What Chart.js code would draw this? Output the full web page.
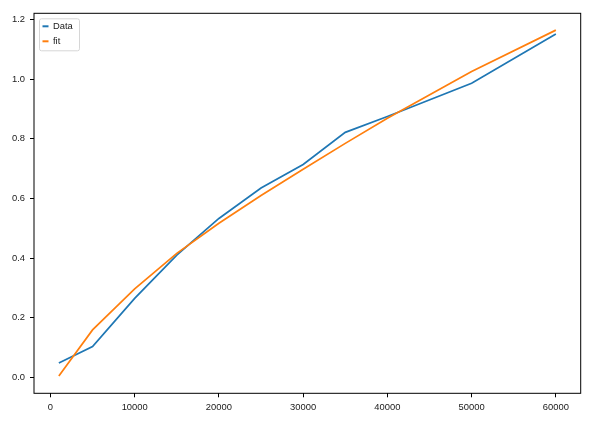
<!DOCTYPE html>
<html>
<head>
<meta charset="utf-8">
<script src="https://cdn.jsdelivr.net/npm/chart.js@4.4.0/dist/chart.umd.min.js"></script>
<style>
  html, body { margin: 0; padding: 0; background: #fff; }
  #wrap { width: 593px; height: 422px; }
</style>
</head>
<body>
<div id="wrap"><canvas id="fitchart" width="593" height="422"></canvas></div>
<script>
// values
const xVals = [1000, 5000, 10000, 15000, 20000, 25000, 30000, 35000, 40000, 50000, 60000];
const dataVals = [0.048, 0.103, 0.265, 0.41, 0.533, 0.635, 0.714, 0.822, 0.875, 0.987, 1.152];
const fitVals = [0.004, 0.159, 0.297, 0.416, 0.517, 0.61, 0.698, 0.785, 0.869, 1.026, 1.165];
const xTicks = [0, 10000, 20000, 30000, 40000, 50000, 60000];
const yTicks = [0.0, 0.2, 0.4, 0.6, 0.8, 1.0, 1.2];
const seriesNames = ['Data', 'fit'];
const seriesColors = ['#1f77b4', '#ff7f0e'];

const FONT = 'Liberation Sans, Arial, sans-serif';

function toPoints(vals) {
    return xVals.map((x, i) => ({ x: x, y: vals[i] }));
}

// matplotlib style box round the axes plus the little legend in the corner
const frameAndLegend = {
    id: 'frameAndLegend',
    afterDraw(chart) {
        const c = chart.ctx;
        const a = chart.chartArea;
        c.save();
        c.strokeStyle = '#000';
        c.lineWidth = 1;
        c.strokeRect(a.left, a.top, a.right - a.left, a.bottom - a.top);

        // legend box
        const bx = a.left + 5.5, by = a.top + 5.5, bw = 40, bh = 32;
        c.beginPath();
        c.roundRect(bx, by, bw, bh, 2);
        c.fillStyle = 'rgba(255,255,255,0.8)';
        c.fill();
        c.strokeStyle = '#d6d6d6';
        c.stroke();

        c.font = '9.4px ' + FONT;
        c.textBaseline = 'middle';
        c.textAlign = 'left';
        seriesNames.forEach((name, i) => {
            const yy = by + 7.5 + i * 15;
            c.strokeStyle = seriesColors[i];
            c.lineWidth = 2;
            c.beginPath();
            c.moveTo(bx + 3, yy);
            c.lineTo(bx + 9, yy);
            c.stroke();
            c.fillStyle = '#1a1a1a';
            c.fillText(name, bx + 13.5, yy);
        });
        c.restore();
    }
};

const ctx = document.getElementById('fitchart').getContext('2d');
const myChart = new Chart(ctx, {
    type: 'line',
    data: {
        datasets: [{
            label: seriesNames[0],
            data: toPoints(dataVals),
            borderColor: seriesColors[0],
            borderWidth: 1.7,
            pointRadius: 0,
            fill: false,
            tension: 0,
            order: 1
        }, {
            label: seriesNames[1],
            data: toPoints(fitVals),
            borderColor: seriesColors[1],
            borderWidth: 1.7,
            pointRadius: 0,
            fill: false,
            tension: 0,
            order: 0
        }]
    },
    options: {
        responsive: false,
        animation: false,
        devicePixelRatio: 1,
        layout: { padding: { top: 13.3, right: 12.3, left: 0, bottom: 0 } },
        plugins: {
            legend: { display: false },
            tooltip: { enabled: false }
        },
        scales: {
            x: {
                type: 'linear',
                min: -1950,
                max: 62950,
                afterBuildTicks: (scale) => { scale.ticks = xTicks.map(v => ({ value: v })); },
                afterFit: (scale) => { scale.height = 28.7; },
                ticks: {
                    color: '#1a1a1a',
                    font: { family: FONT, size: 9.4 },
                    padding: 4,
                    maxRotation: 0,
                    autoSkip: false,
                    callback: (v) => String(v)
                },
                grid: { drawOnChartArea: false, drawTicks: true, tickLength: 4, tickColor: '#000' },
                border: { display: false }
            },
            y: {
                type: 'linear',
                min: -0.0537,
                max: 1.2215,
                afterBuildTicks: (scale) => { scale.ticks = yTicks.map(v => ({ value: v })); },
                afterFit: (scale) => { scale.width = 34; },
                ticks: {
                    color: '#1a1a1a',
                    font: { family: FONT, size: 9.4 },
                    padding: 5,
                    autoSkip: false,
                    callback: (v) => Number(v).toFixed(1)
                },
                grid: { drawOnChartArea: false, drawTicks: true, tickLength: 4, tickColor: '#000' },
                border: { display: false }
            }
        }
    },
    plugins: [frameAndLegend]
});
</script>
</body>
</html>
